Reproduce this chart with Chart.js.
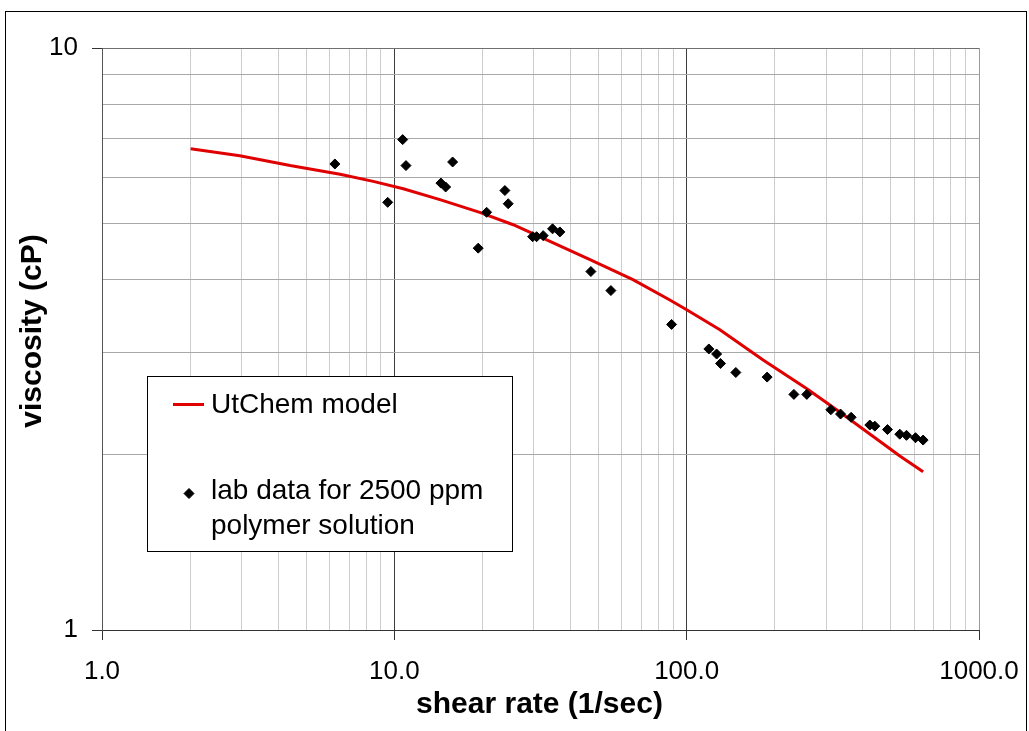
<!DOCTYPE html>
<html>
<head>
<meta charset="utf-8">
<script src="https://cdn.jsdelivr.net/npm/chart.js@4.4.1/dist/chart.umd.min.js"></script>
<style>
  html, body { margin: 0; padding: 0; background: #ffffff; }
  canvas { display: block; }
</style>
</head>
<body>
<canvas id="chart" width="1029" height="731"></canvas>
<script>
// Measured lab viscosities (cP) of the 2500 ppm polymer solution vs. shear rate (1/sec)
const labShearRate = [6.26, 9.49, 10.68, 10.96, 14.43, 14.98, 15.83, 19.36, 20.69, 23.89,
  24.52, 29.72, 30.67, 32.30, 34.78, 36.84, 47.03, 55.06, 88.8, 119.1,
  126.6, 130.6, 147.3, 188.5, 232.7, 257.6, 311.3, 336.0, 365.3, 423.2,
  440.2, 486.4, 535.8, 565.0, 606.5, 644.0];
const labViscosity = [6.32, 5.43, 6.96, 6.28, 5.86, 5.77, 6.37, 4.53, 5.22, 5.69,
  5.40, 4.74, 4.74, 4.76, 4.89, 4.83, 4.13, 3.83, 3.35, 3.04,
  2.98, 2.87, 2.77, 2.72, 2.54, 2.54, 2.39, 2.35, 2.32, 2.25,
  2.24, 2.21, 2.17, 2.16, 2.14, 2.12];

// UtChem model curve
const modelShearRate = [2.01, 2.96, 4.40, 6.52, 8.47, 10.73, 14.32, 19.6, 25.5, 33.2,
  46.7, 65.5, 87.6, 100.0, 129.9, 182.6, 257.0, 325.6, 470.0, 536.0, 644.0];
const modelViscosity = [6.71, 6.53, 6.28, 6.07, 5.90, 5.73, 5.49, 5.22, 4.97, 4.68,
  4.33, 4.00, 3.69, 3.55, 3.28, 2.91, 2.60, 2.39, 2.09, 1.99, 1.87];

// Axis tick values (gridlines at every log step) and the labelled decades
const xGridValues = [1, 2, 3, 4, 5, 6, 7, 8, 9, 10, 20, 30, 40, 50, 60, 70, 80, 90,
  100, 200, 300, 400, 500, 600, 700, 800, 900, 1000];
const xTickLabels = { 1: '1.0', 10: '10.0', 100: '100.0', 1000: '1000.0' };
const yGridValues = [1, 2, 3, 4, 5, 6, 7, 8, 9, 10];
const yTickLabels = { 1: '1', 10: '10' };

const seriesNames = ['UtChem model', 'lab data for 2500 ppm', 'polymer solution'];
const xTitle = 'shear rate (1/sec)';
const yTitle = 'viscosity (cP)';

const FONT = "'Liberation Sans', Arial, Helvetica, sans-serif";
Chart.defaults.font.family = FONT;
Chart.defaults.color = '#000000';

const toPoints = (xs, ys) => xs.map((x, i) => ({ x: x, y: ys[i] }));

// White page and the outer frame around the whole chart
const framePlugin = {
  id: 'frame',
  beforeDraw(chart) {
    const ctx = chart.ctx;
    ctx.save();
    ctx.fillStyle = '#ffffff';
    ctx.fillRect(0, 0, chart.width, chart.height);
    ctx.restore();
  },
  afterDraw(chart) {
    const ctx = chart.ctx;
    ctx.save();
    ctx.strokeStyle = '#000000';
    ctx.lineWidth = 1;
    ctx.strokeRect(5.5, 11.5, 1021, 740);
    ctx.restore();
  }
};

// Axis titles
const titlesPlugin = {
  id: 'axisTitles',
  afterDraw(chart) {
    const ctx = chart.ctx;
    const area = chart.chartArea;
    ctx.save();
    ctx.fillStyle = '#000000';
    ctx.font = 'bold 30px ' + FONT;
    ctx.textAlign = 'center';
    ctx.textBaseline = 'middle';
    ctx.fillText(xTitle, (area.left + area.right) / 2 - 1, 705);
    ctx.translate(33, 331);
    ctx.rotate(-Math.PI / 2);
    ctx.fillText(yTitle, 0, 0);
    ctx.restore();
  }
};

// Boxed legend inside the plot area
const legendBoxPlugin = {
  id: 'legendBox',
  afterDatasetsDraw(chart) {
    const ctx = chart.ctx;
    ctx.save();
    ctx.fillStyle = '#ffffff';
    ctx.fillRect(147, 376, 365, 175);
    ctx.strokeStyle = '#000000';
    ctx.lineWidth = 1;
    ctx.strokeRect(147.5, 376.5, 365, 175);

    const dotDs = chart.data.datasets[0];
    const lineDs = chart.data.datasets[1];

    ctx.strokeStyle = lineDs.borderColor;
    ctx.lineWidth = lineDs.borderWidth;
    ctx.beginPath();
    ctx.moveTo(173, 404.5);
    ctx.lineTo(204, 404.5);
    ctx.stroke();

    ctx.fillStyle = dotDs.backgroundColor;
    ctx.strokeStyle = dotDs.borderColor;
    ctx.lineWidth = 1;
    Chart.helpers.drawPoint(ctx, {
      pointStyle: 'rectRot', radius: 5, borderWidth: 1, rotation: 0
    }, 189, 493.5);

    ctx.fillStyle = '#000000';
    ctx.font = '28px ' + FONT;
    ctx.textAlign = 'left';
    ctx.textBaseline = 'alphabetic';
    ctx.fillText(seriesNames[0], 211, 413);
    ctx.fillText(seriesNames[1], 211, 499);
    ctx.fillText(seriesNames[2], 211, 534);
    ctx.restore();
  }
};

const isDecade = v => Math.abs(Math.log10(v) - Math.round(Math.log10(v))) < 1e-9;

new Chart(document.getElementById('chart'), {
  data: {
    datasets: [
      {
        type: 'scatter',
        label: seriesNames[1] + ' ' + seriesNames[2],
        data: toPoints(labShearRate, labViscosity),
        pointStyle: 'rectRot',
        pointRadius: 5,
        pointHoverRadius: 5,
        backgroundColor: '#000000',
        borderColor: '#000000',
        borderWidth: 1,
        order: 1
      },
      {
        type: 'line',
        label: seriesNames[0],
        data: toPoints(modelShearRate, modelViscosity),
        borderColor: '#e00000',
        backgroundColor: '#e00000',
        borderWidth: 3,
        pointRadius: 0,
        tension: 0,
        fill: false,
        order: 2
      }
    ]
  },
  options: {
    responsive: false,
    animation: false,
    devicePixelRatio: 1,
    layout: { padding: { left: 0, top: 48, right: 50, bottom: 0 } },
    plugins: {
      legend: { display: false },
      tooltip: { enabled: false },
      title: { display: false }
    },
    scales: {
      x: {
        type: 'logarithmic',
        position: 'bottom',
        min: 1,
        max: 1000,
        afterBuildTicks: s => {
          s.ticks = xGridValues.map(v => ({ value: v, major: isDecade(v) }));
        },
        afterFit: s => { s.height = 101; },
        ticks: {
          autoSkip: false,
          maxRotation: 0,
          minRotation: 0,
          padding: 9,
          color: '#000000',
          font: { size: 26, lineHeight: 1.75 },
          callback: v => xTickLabels[v] || ''
        },
        grid: {
          lineWidth: 1,
          tickLength: 10,
          color: c => {
            const v = c.tick ? c.tick.value : 0;
            if (v === 10 || v === 100) return '#3c3c3c';
            if (v === 1) return '#555555';
            if (v === 1000) return '#9a9a9a';
            return '#cdcdcd';
          },
          tickColor: c => (c.tick && isDecade(c.tick.value)) ? '#333333' : 'rgba(0,0,0,0)'
        },
        border: { display: true, color: '#333333', width: 1 }
      },
      y: {
        type: 'logarithmic',
        position: 'left',
        min: 1,
        max: 10,
        afterBuildTicks: s => {
          s.ticks = yGridValues.map(v => ({ value: v, major: isDecade(v) }));
        },
        afterFit: s => { s.width = 102; },
        ticks: {
          autoSkip: false,
          padding: 14,
          color: '#000000',
          font: { size: 26 },
          callback: v => yTickLabels[v] || ''
        },
        grid: {
          lineWidth: 1,
          tickLength: 10,
          color: c => {
            const v = c.tick ? c.tick.value : 0;
            if (v === 10) return '#707070';
            if (v === 1) return '#333333';
            return '#a8a8a8';
          },
          tickColor: c => (c.tick && isDecade(c.tick.value)) ? '#333333' : 'rgba(0,0,0,0)'
        },
        border: { display: true, color: '#555555', width: 1 }
      }
    }
  },
  plugins: [framePlugin, legendBoxPlugin, titlesPlugin]
});
</script>
</body>
</html>
